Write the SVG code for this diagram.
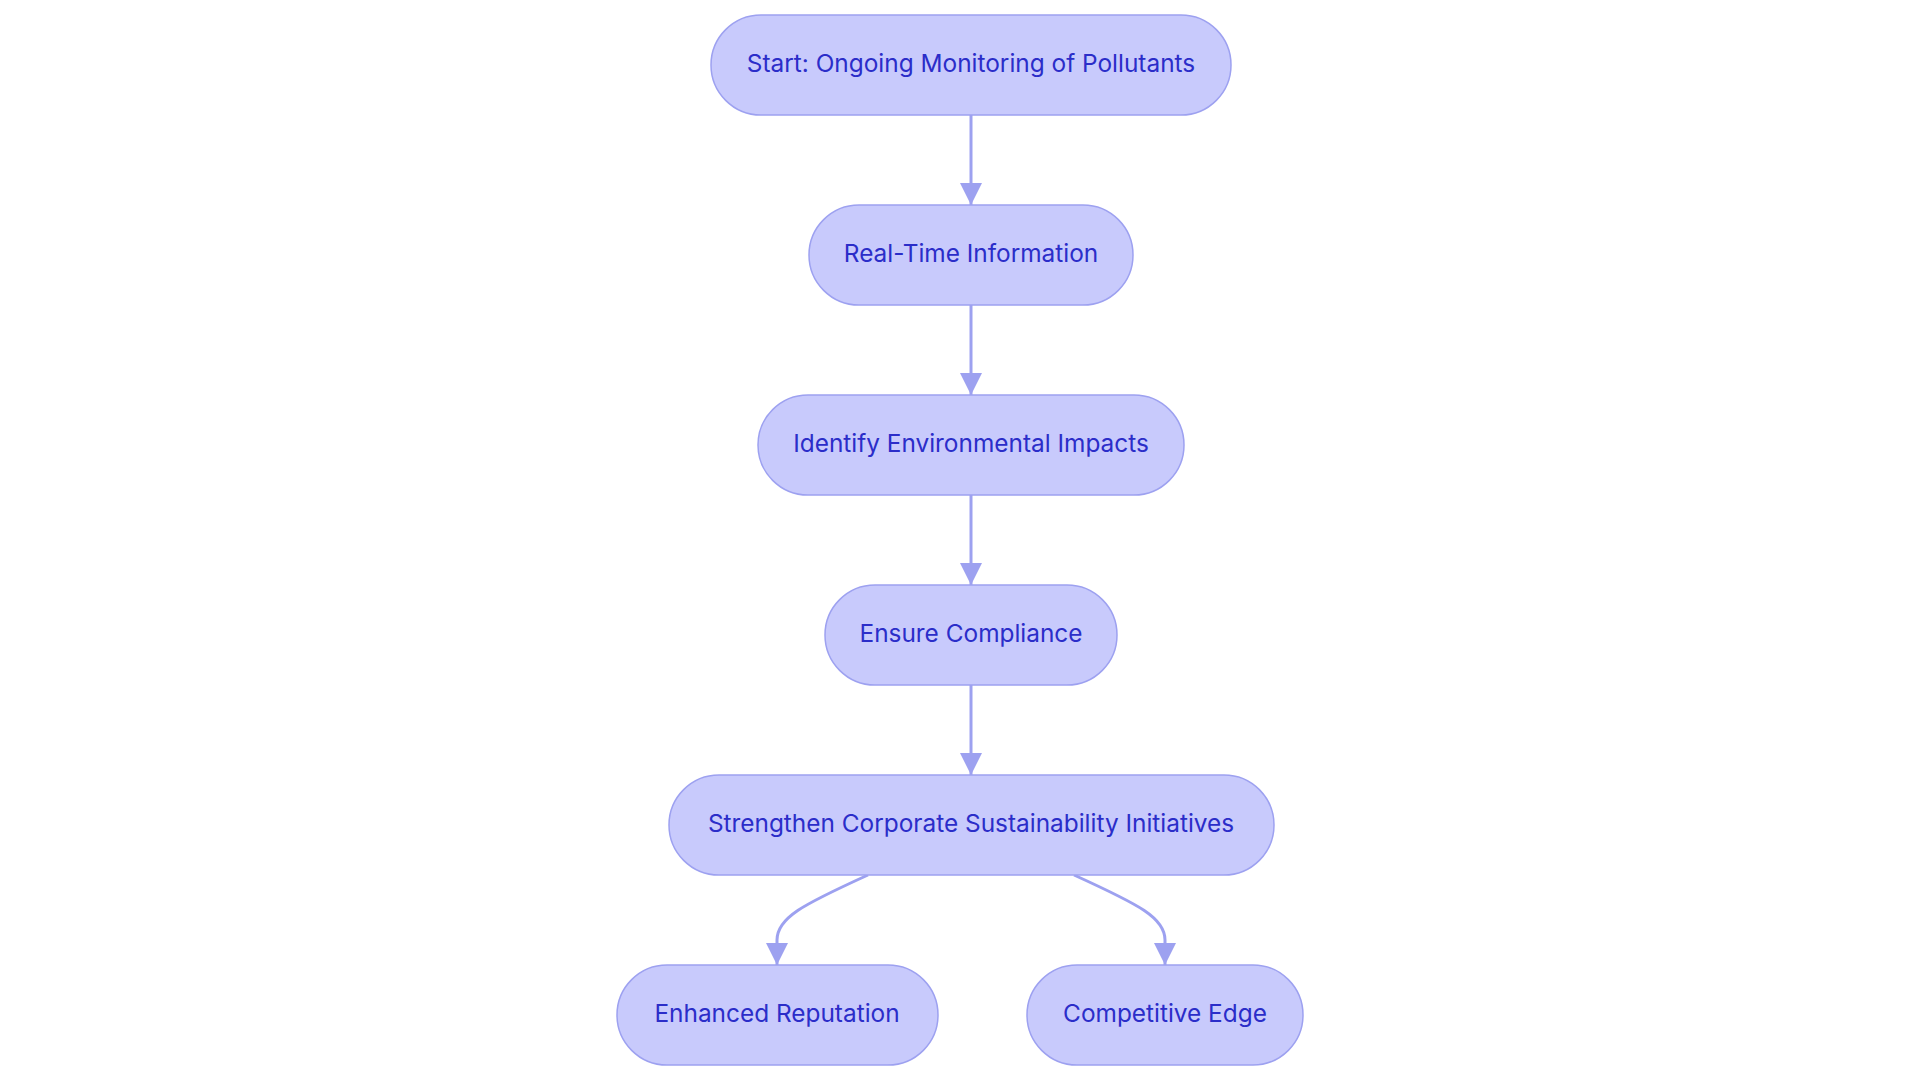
<svg xmlns="http://www.w3.org/2000/svg" width="1920" height="1083" viewBox="0 0 1920 1083">
<defs>
<style>
.node rect{fill:#C8CAFC;stroke:#9DA1F0;stroke-width:1.5}
.node text{font-family:Inter,"Noto Sans",sans-serif;font-size:24.4px;font-weight:400;fill:#2B2DC9;text-anchor:middle;dominant-baseline:central}
.edge{fill:none;stroke:#9DA1F0;stroke-width:3}
</style>
<marker id="arrow" viewBox="0 0 10 10" refX="10" refY="5" markerUnits="userSpaceOnUse" markerWidth="22" markerHeight="22" orient="auto">
<path d="M0,0 L10,5 L0,10 z" fill="#9DA1F0"/>
</marker>
</defs>
<rect width="1920" height="1083" fill="#FFFFFF"/>
<g id="connectors">
<path class="edge" d="M971,115 L971,205" marker-end="url(#arrow)"/>
<path class="edge" d="M971,305 L971,395" marker-end="url(#arrow)"/>
<path class="edge" d="M971,495 L971,585" marker-end="url(#arrow)"/>
<path class="edge" d="M971,685 L971,775" marker-end="url(#arrow)"/>
<path class="edge" d="M868,875 C802,905 777,918 777,940 L777,965" marker-end="url(#arrow)"/>
<path class="edge" d="M1074,875 C1140,905 1165,918 1165,940 L1165,965" marker-end="url(#arrow)"/>
</g>
<g id="n1" class="node"><rect x="711" y="15" width="520" height="100" rx="50" ry="50"/><text x="971" y="63">Start: Ongoing Monitoring of Pollutants</text></g>
<g id="n2" class="node"><rect x="809" y="205" width="324" height="100" rx="50" ry="50"/><text x="971" y="253">Real-Time Information</text></g>
<g id="n3" class="node"><rect x="758" y="395" width="426" height="100" rx="50" ry="50"/><text x="971" y="443">Identify Environmental Impacts</text></g>
<g id="n4" class="node"><rect x="825" y="585" width="292" height="100" rx="50" ry="50"/><text x="971" y="633">Ensure Compliance</text></g>
<g id="n5" class="node"><rect x="669" y="775" width="605" height="100" rx="50" ry="50"/><text x="971" y="823">Strengthen Corporate Sustainability Initiatives</text></g>
<g id="n6" class="node"><rect x="617" y="965" width="321" height="100" rx="50" ry="50"/><text x="777" y="1013">Enhanced Reputation</text></g>
<g id="n7" class="node"><rect x="1027" y="965" width="276" height="100" rx="50" ry="50"/><text x="1165" y="1013">Competitive Edge</text></g>
</svg>
